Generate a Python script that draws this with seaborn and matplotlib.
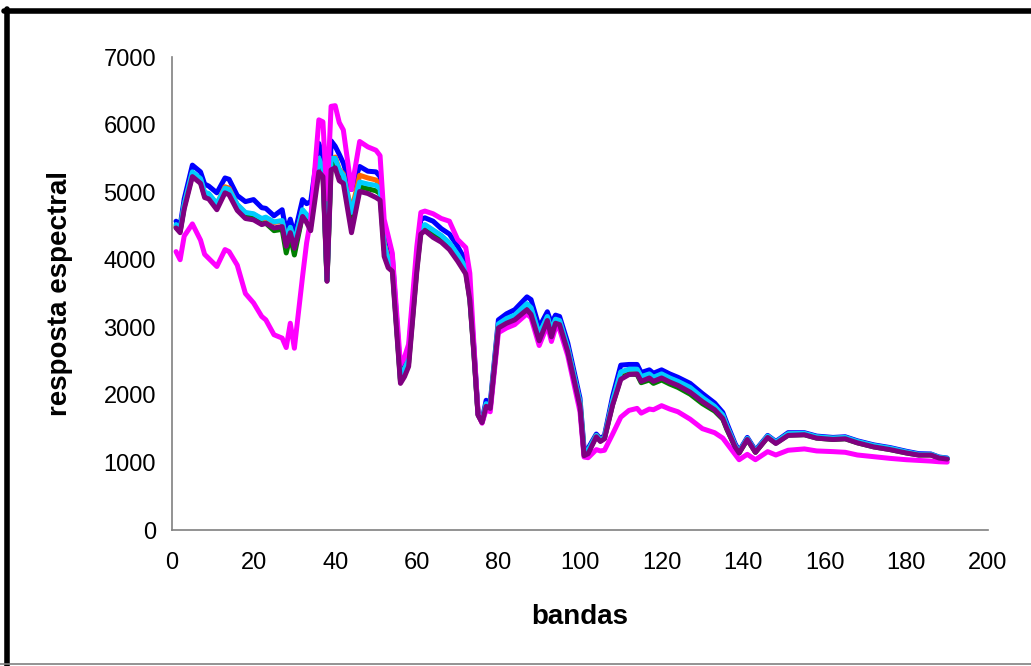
import pandas as pd
import matplotlib
matplotlib.use("Agg")
import matplotlib.pyplot as plt
from matplotlib.lines import Line2D
import seaborn as sns

# bandas onde os valores foram lidos
bandas = [1, 2, 3, 5, 7, 8, 9, 11, 13, 14, 16, 18, 20, 22, 23, 25, 27, 28, 29, 30,
          32, 33, 34, 36, 37, 38, 39, 40, 41, 42, 44, 46, 48, 50, 51, 52, 53, 54, 56, 57,
          58, 60, 61, 62, 64, 66, 68, 70, 72, 73, 74, 75, 76, 77, 78, 80, 82, 84, 87, 88,
          90, 92, 93, 94, 95, 97, 100, 101, 102, 104, 105, 106, 108, 110, 112, 114, 115, 117, 118, 120,
          122, 124, 127, 130, 133, 135, 136, 138, 139, 141, 143, 146, 148, 151, 155, 158, 162, 165, 168, 172,
          176, 180, 183, 186, 188, 190]

azul = [4570, 4500, 4900, 5400, 5300, 5120, 5090, 4990, 5210, 5190, 4950, 4860, 4890, 4770, 4760, 4650, 4740, 4420, 4600, 4370,
        4890, 4830, 4860, 5720, 5530, 3700, 5760, 5680, 5560, 5430, 5040, 5380, 5310, 5300, 5230, 4400, 4300, 4050, 2300, 2500,
        2650, 4030, 4600, 4620, 4570, 4460, 4380, 4200, 3980, 3500, 2700, 1750, 1620, 1920, 1880, 3110, 3200, 3260, 3450, 3410,
        3000, 3230, 3060, 3180, 3160, 2770, 1950, 1200, 1210, 1420, 1350, 1400, 1980, 2440, 2450, 2450, 2330, 2370, 2320, 2370,
        2310, 2260, 2170, 2020, 1880, 1740, 1580, 1280, 1170, 1370, 1180, 1400, 1310, 1440, 1440, 1390, 1370, 1380, 1320, 1260,
        1220, 1165, 1130, 1125, 1080, 1065]

laranja = [4500, 4440, 4810, 5290, 5190, 4990, 4970, 4820, 5080, 5060, 4810, 4690, 4670, 4600, 4620, 4550, 4570, 4290, 4470, 4250,
           4730, 4660, 4590, 5480, 5340, 3690, 5480, 5520, 5340, 5270, 4720, 5250, 5210, 5180, 5100, 4240, 4020, 3940, 2230, 2380,
           2530, 3920, 4470, 4510, 4430, 4350, 4240, 4070, 3870, 3450, 2650, 1720, 1600, 1860, 1830, 3040, 3120, 3170, 3340, 3280,
           2890, 3150, 2940, 3110, 3090, 2690, 1880, 1160, 1170, 1400, 1330, 1370, 1900, 2330, 2370, 2370, 2260, 2300, 2250, 2300,
           2240, 2190, 2100, 1950, 1820, 1690, 1530, 1250, 1150, 1350, 1160, 1385, 1295, 1420, 1425, 1375, 1355, 1365, 1305, 1245,
           1205, 1150, 1115, 1115, 1070, 1055]

verde = [4480, 4420, 4780, 5260, 5150, 4950, 4930, 4780, 5020, 4990, 4760, 4640, 4610, 4530, 4540, 4430, 4450, 4100, 4350, 4070,
         4660, 4600, 4500, 5420, 5300, 3690, 5400, 5430, 5250, 5180, 4550, 5080, 5050, 5020, 4980, 4150, 3950, 3880, 2200, 2330,
         2470, 3860, 4420, 4460, 4360, 4290, 4180, 4010, 3820, 3420, 2620, 1710, 1595, 1840, 1810, 3010, 3080, 3130, 3290, 3220,
         2830, 3120, 2880, 3080, 3060, 2660, 1850, 1120, 1150, 1390, 1320, 1360, 1860, 2250, 2310, 2300, 2180, 2220, 2170, 2220,
         2160, 2110, 2010, 1870, 1760, 1640, 1490, 1230, 1140, 1340, 1150, 1375, 1285, 1405, 1410, 1360, 1340, 1350, 1290, 1230,
         1190, 1140, 1110, 1110, 1065, 1050]

ciano = [4520, 4450, 4820, 5300, 5200, 5000, 4980, 4830, 5060, 5040, 4820, 4700, 4680, 4610, 4630, 4560, 4580, 4300, 4480, 4260,
         4740, 4670, 4600, 5500, 5350, 3690, 5500, 5500, 5330, 5250, 4700, 5150, 5120, 5100, 5050, 4220, 4000, 3930, 2230, 2380,
         2530, 3930, 4480, 4520, 4440, 4360, 4250, 4080, 3880, 3450, 2650, 1720, 1600, 1870, 1840, 3050, 3130, 3180, 3350, 3290,
         2900, 3160, 2950, 3120, 3100, 2700, 1890, 1170, 1180, 1400, 1330, 1370, 1910, 2340, 2380, 2380, 2270, 2310, 2260, 2310,
         2250, 2200, 2110, 1960, 1830, 1700, 1540, 1250, 1155, 1355, 1165, 1390, 1300, 1425, 1430, 1380, 1360, 1370, 1310, 1250,
         1210, 1155, 1120, 1120, 1075, 1060]

magenta = [4120, 4000, 4350, 4530, 4290, 4080, 4020, 3900, 4150, 4120, 3920, 3500, 3360, 3160, 3110, 2890, 2840, 2700, 3060, 2690,
           3750, 4250, 4600, 6070, 6040, 4900, 6270, 6280, 6030, 5920, 5040, 5750, 5670, 5620, 5540, 4600, 4350, 4100, 2450, 2560,
           2750, 4190, 4700, 4720, 4680, 4610, 4570, 4300, 4180, 3800, 2750, 1720, 1580, 1780, 1750, 2920, 2990, 3040, 3200, 3140,
           2730, 3030, 2790, 2990, 2970, 2580, 1750, 1080, 1070, 1190, 1170, 1180, 1420, 1670, 1770, 1800, 1730, 1790, 1780, 1840,
           1790, 1750, 1640, 1500, 1440, 1360, 1280, 1120, 1040, 1120, 1040, 1160, 1110, 1180, 1200, 1170, 1160, 1150, 1110, 1085,
           1060, 1040, 1030, 1020, 1010, 1005]

roxo = [4470, 4400, 4750, 5230, 5130, 4920, 4900, 4740, 4990, 4960, 4730, 4610, 4590, 4520, 4540, 4470, 4490, 4200, 4400, 4170,
        4640, 4550, 4430, 5300, 5230, 3680, 5330, 5360, 5170, 5130, 4400, 5010, 4980, 4920, 4880, 4050, 3880, 3830, 2170, 2270,
        2420, 3820, 4380, 4430, 4330, 4260, 4150, 3980, 3790, 3400, 2600, 1700, 1590, 1830, 1800, 2990, 3060, 3110, 3260, 3190,
        2800, 3100, 2860, 3060, 3040, 2640, 1830, 1100, 1130, 1380, 1310, 1350, 1850, 2230, 2300, 2310, 2200, 2250, 2200, 2250,
        2190, 2140, 2040, 1900, 1780, 1650, 1500, 1230, 1140, 1340, 1150, 1370, 1280, 1400, 1410, 1360, 1340, 1350, 1290, 1230,
        1190, 1140, 1110, 1110, 1065, 1050]

series = {"azul": azul, "laranja": laranja, "verde": verde, "ciano": ciano,
          "magenta": magenta, "roxo": roxo}
cores = {"azul": "#0000FF", "laranja": "#FF6600", "verde": "#008000", "ciano": "#00CCFF",
         "magenta": "#FF00FF", "roxo": "#800080"}

df = pd.concat([pd.DataFrame({"banda": bandas, "valor": v, "serie": k})
                for k, v in series.items()], ignore_index=True)

sns.set_style("white")
plt.rcParams['font.family'] = ['Liberation Sans', 'DejaVu Sans']

fig = plt.figure(figsize=(10.31, 6.66), dpi=100)
ax = fig.add_axes([0.1668, 0.2042, 0.7915, 0.7102])

sns.lineplot(data=df, x="banda", y="valor", hue="serie", hue_order=list(series.keys()),
             palette=cores, linewidth=3.6, legend=False, estimator=None, sort=False, ax=ax)

ax.set_xlim(0, 200)
ax.set_ylim(0, 7000)
ax.set_xticks(range(0, 201, 20))
ax.set_yticks(range(0, 7001, 1000))
ax.tick_params(axis="both", direction="out", length=4.5, width=1, color="#808080",
               labelsize=17, labelcolor="black")
ax.tick_params(axis="x", pad=11)
ax.tick_params(axis="y", pad=7)
for s in ["top", "right"]:
    ax.spines[s].set_visible(False)
for s in ["left", "bottom"]:
    ax.spines[s].set_color("#808080")
    ax.spines[s].set_linewidth(1.2)

ax.set_xlabel("bandas", fontsize=20, fontweight="bold", labelpad=22, color="black")
ax.set_ylabel("resposta espectral", fontsize=20, fontweight="bold", labelpad=22, color="black")

# moldura estilo Excel
fig.add_artist(Line2D([0.004, 1.0], [0.9835, 0.9835], transform=fig.transFigure, color="black", lw=4))
fig.add_artist(Line2D([0.0065, 0.0065], [0.0, 0.987], transform=fig.transFigure, color="black", lw=4))
fig.add_artist(Line2D([0.0, 1.0], [0.003, 0.003], transform=fig.transFigure, color="#808080", lw=1.2))

fig.savefig("out.png", dpi=100)
